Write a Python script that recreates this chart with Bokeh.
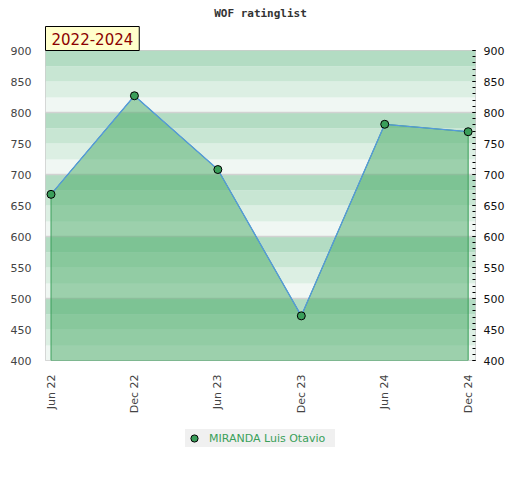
import math
from bokeh.plotting import figure
from bokeh.layouts import column
from bokeh.models import LinearAxis, FixedTicker, Title, Legend, LegendItem, Range1d
from bokeh.embed import file_html
from bokeh.resources import INLINE

periods = ["Jun 22", "Dec 22", "Jun 23", "Dec 23", "Jun 24", "Dec 24"]
ratings = [668, 827, 708, 472, 781, 769]
player = "MIRANDA Luis Otavio"
title_text = "WOF ratinglist"
span_text = "2022-2024"
y_ticks = [400, 450, 500, 550, 600, 650, 700, 750, 800, 850, 900]
y_min, y_max = 400, 900

xs = list(range(len(periods)))

p = figure(width=515, height=416, output_backend="svg", toolbar_location=None,
           x_range=Range1d(-0.066, len(periods) - 1 + 0.088),
           y_range=Range1d(y_min, y_max),
           min_border_left=45, min_border_right=40,
           min_border_top=50, min_border_bottom=56)
p.outline_line_color = "#cccccc"
p.outline_line_width = 1
p.xgrid.visible = False
p.ygrid.visible = False

# background bands
band_colors = ["#f0f7f3", "#dcefe3", "#c8e6d3", "#b3dcc3"]
lows = list(range(y_min, y_max, 25))
p.hstrip(y0=lows, y1=[v + 25 for v in lows],
         fill_color=[band_colors[((v - y_min) // 25) % 4] for v in lows],
         line_color=None)
p.hspan(y=list(range(y_min + 100, y_max, 100)), line_color="#d2d2d2", line_width=1.5)

# area
px = [xs[0]] + xs + [xs[-1]]
py = [y_min] + ratings + [y_min]
p.patch(px, py, fill_color="#48aa66", fill_alpha=0.5,
        line_color="#3a9e5a", line_width=1)
p.line(xs, ratings, line_color="#5599dd", line_width=1.3)
p.scatter(xs, ratings, size=8, marker="circle",
          fill_color="#3a9e5a", line_color="black", line_width=1)

# x axis
xa = p.xaxis[0]
xa.ticker = FixedTicker(ticks=xs)
xa.major_label_overrides = {i: s for i, s in enumerate(periods)}
xa.major_label_orientation = math.pi / 2
xa.major_label_text_font = "DejaVu Sans"
xa.major_label_text_font_size = "11px"
xa.major_label_text_color = "#444444"
xa.major_label_standoff = 8
xa.axis_line_color = None
xa.major_tick_line_color = None
xa.minor_tick_line_color = None

# left y axis
ya = p.yaxis[0]
ya.ticker = FixedTicker(ticks=y_ticks)
ya.major_label_text_font = "DejaVu Sans"
ya.major_label_text_font_size = "11px"
ya.major_label_text_color = "#444444"
ya.major_label_standoff = 8
ya.axis_line_color = None
ya.major_tick_line_color = None
ya.minor_tick_line_color = None

# right y axis
ra = LinearAxis(ticker=FixedTicker(ticks=y_ticks, minor_ticks=list(range(y_min, y_max + 1, 10))))
ra.major_label_text_font = "DejaVu Sans"
ra.major_label_text_font_size = "11px"
ra.major_label_text_color = "#111111"
ra.major_label_standoff = 8
ra.axis_line_color = None
ra.major_tick_in = 3
ra.major_tick_out = 0
ra.minor_tick_in = 3
ra.minor_tick_out = 0
ra.major_tick_line_color = "black"
ra.minor_tick_line_color = "black"
p.add_layout(ra, "right")

# period badge (closest to frame), then chart title
p.add_layout(Title(text=span_text, align="left", text_font="DejaVu Sans",
                   text_font_size="15px", text_font_style="normal", text_color="#8b0000",
                   background_fill_color="#ffffcc", border_line_color="black",
                   border_line_width=1, padding=6, standoff=0), "above")
p.add_layout(Title(text=title_text, align="center", text_font="DejaVu Sans Mono",
                   text_font_size="11px", text_font_style="bold", text_color="#333333",
                   standoff=9), "above")

# legend strip below the chart
lg = figure(width=515, height=54, output_backend="svg", toolbar_location=None,
            x_range=Range1d(100, 101), y_range=Range1d(100, 101),
            x_axis_location=None, y_axis_location=None,
            min_border=0, outline_line_color=None)
lg.grid.visible = False
pts = lg.scatter(xs, ratings, size=8, marker="circle",
                 fill_color="#3a9e5a", line_color="black", line_width=1)
legend = Legend(items=[LegendItem(label=player, renderers=[pts])],
                location=(140, 23), orientation="horizontal",
                background_fill_color="#f0f0f0", background_fill_alpha=1,
                border_line_color=None, label_text_color="#3aa05a",
                label_text_font="DejaVu Sans", label_text_font_size="11px",
                glyph_width=18, glyph_height=18, label_height=18, label_width=126,
                padding=2, margin=0, label_standoff=6)
lg.add_layout(legend, "center")

open("out.html", "w").write(file_html(column(p, lg, spacing=0), INLINE))
